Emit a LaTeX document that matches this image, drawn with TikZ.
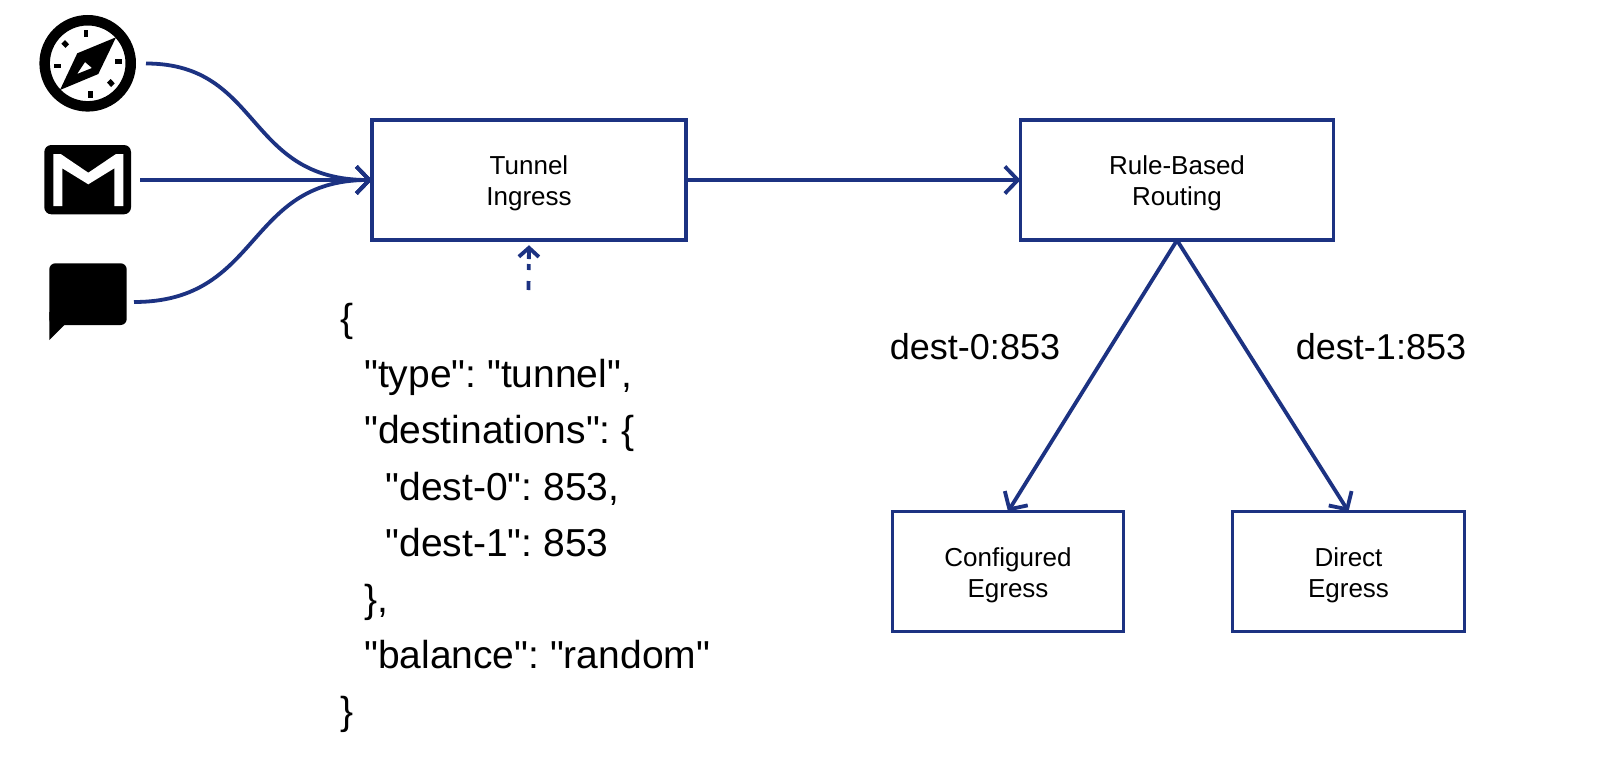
\documentclass[tikz,border=0pt]{standalone}
\usepackage{fontspec}
\setmainfont{Liberation Sans}
\newfontfamily\jsonfont{Liberation Sans}
\usetikzlibrary{arrows.meta}
\definecolor{navy}{RGB}{28,50,130}
\newcommand\downstrut{\rule{0pt}{26pt}}
\tikzset{
  x=1pt,y=-1pt,
  box/.style={draw=navy,line width=3.8pt,fill=white,align=center,inner sep=0pt,outer sep=0pt,
    font=\fontsize{26}{31}\selectfont},
  big/.style={font=\fontsize{36}{44}\selectfont,inner sep=0pt,text=black},
  flow/.style={draw=navy,line width=3.8pt,-{Straight Barb[length=13pt,width=27pt,line width=3.8pt]}},
}
\begin{document}
\begin{tikzpicture}
\useasboundingbox (0,0) rectangle (1600,760);
\fill[white] (0,0) rectangle (1600,760);
% boxes
\node[box,minimum width=314pt,minimum height=120.5pt] (tunnel) at (529,180) {\downstrut Tunnel\\Ingress};
\node[box,minimum width=313pt,minimum height=120.5pt] (rule) at (1177,180) {\downstrut Rule-Based\\Routing};
\node[box,minimum width=231pt,minimum height=120pt] (conf) at (1008,571.5) {\downstrut Configured\\Egress};
\node[box,minimum width=232pt,minimum height=120pt] (direct) at (1348.5,571.5) {\downstrut Direct\\Egress};
% compass icon
\fill[black,even odd rule] (87.7,63.3) circle (48.3) (87.7,63.3) circle (37.8);
\fill[black] (83.5,30.5) rectangle (88.2,37.5);
\fill[black] (87.8,90.5) rectangle (92.5,97.5);
\fill[black] (114.8,59) rectangle (121.8,63.7);
\fill[black] (54.2,63.7) rectangle (61.2,68.4);
\fill[black] (65,40) -- (69,44.3) -- (65.5,48) -- (61.3,43.7) -- cycle;
\fill[black] (110.7,79) -- (114.7,83.3) -- (111.2,87) -- (107,82.7) -- cycle;
\fill[black,even odd rule] (60,90) -- (77.3,53.3) -- (116,37.3) -- (98.3,74) -- cycle
   (77,74) -- (85,62) -- (92,68) -- cycle;
% mail icon
\fill[black,rounded corners=7pt] (44.3,145) rectangle (131,214.3);
\fill[white] (53.3,154) -- (60.7,154) -- (88.3,172.7) -- (116,154) -- (123.3,154) -- (123.3,206)
   -- (114.3,206) -- (114.3,168.3) -- (88.3,184.3) -- (62.3,168.3) -- (62.3,206) -- (53.3,206) -- cycle;
% chat icon
\fill[black,rounded corners=6pt] (49.3,263.3) rectangle (126.7,325);
\fill[black] (49.3,340) -- (49.3,312) -- (64.3,312) -- (64.3,325) -- cycle;
% connector ends
\coordinate (webend) at (146,63.5);
\coordinate (mailend) at (140,180);
\coordinate (chatend) at (134,302);
\coordinate (jsonend) at (528.5,290);
% connectors
\draw[flow] (webend) .. controls (262,63.5) and (245,180) .. (tunnel.west);
\draw[flow] (mailend) -- (tunnel.west);
\draw[flow] (chatend) .. controls (262,302) and (245,180) .. (tunnel.west);
\draw[flow] (tunnel.east) -- (rule.west);
\draw[flow] (rule.south) -- (conf.north);
\draw[flow] (rule.south) -- (direct.north);
\draw[draw=navy,line width=3.8pt,dash pattern=on 9pt off 11pt on 6pt off 5pt on 14pt off 100pt,
  -{Straight Barb[length=9pt,width=20pt,line width=3.8pt]}]
  (jsonend) -- ([yshift=-5pt]tunnel.south);
% labels
\node[big] (lab0) at (975,347) {dest-0:853};
\node[big] (lab1) at (1381,347) {dest-1:853};
\node[big,anchor=north west,align=left,font=\jsonfont\frenchspacing\fontsize{39}{56.2}\selectfont] (json) at (340,303) {%
{\{}\\
\hspace*{24pt}"type": "tunnel",\\
\hspace*{24pt}"destinations": \{\\
\hspace*{45.5pt}"dest-0": 853,\\
\hspace*{45.5pt}"dest-1": 853\\
\hspace*{24pt}\},\\
\hspace*{24pt}"balance": "random"\\
\}};
\end{tikzpicture}
\end{document}
